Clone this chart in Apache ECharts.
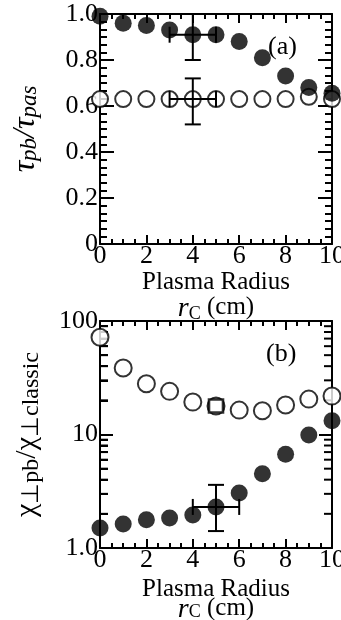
<!DOCTYPE html>
<html lang="en">
<head>
    <meta charset="UTF-8">
    <script src="https://cdn.jsdelivr.net/npm/echarts@6/dist/echarts.min.js"></script>
    <title>Plasma radius</title>
    <style>
        html, body { margin: 0; padding: 0; background: #fff; }
        #chart { width: 341px; height: 620px; }
    </style>
</head>
<body>
<div id="chart"></div>
<script type="text/javascript">
    // data
    var radius = [0, 1, 2, 3, 4, 5, 6, 7, 8, 9, 10];
    var tauFilled = [0.99, 0.96, 0.95, 0.93, 0.91, 0.91, 0.88, 0.81, 0.73, 0.68, 0.655];
    var tauOpen = [0.63, 0.63, 0.63, 0.63, 0.63, 0.63, 0.63, 0.63, 0.63, 0.64, 0.63];
    var chiFilled = [1.5, 1.63, 1.77, 1.84, 1.95, 2.3, 3.05, 4.5, 6.7, 9.9, 13.2];
    var chiOpen = [72, 38.5, 28, 24, 19.3, 17.8, 16.4, 16.2, 18.2, 20.5, 21.8];
    var chiSquare = [[5, 17.8]];
    // [x, y, xlow, xhigh, ylow, yhigh]
    var errA = [[4, 0.91, 3, 5, 0.80, 1.02], [4, 0.63, 3, 5, 0.52, 0.72]];
    var errB = [[5, 2.3, 4, 6, 1.41, 3.6]];
    var logMinor = [2, 3, 4, 5, 6, 7, 8, 9, 20, 30, 40, 50, 60, 70, 80, 90];

    var FONT = 'Liberation Serif';

    function pairs(ys) {
        return radius.map(function (x, i) { return [x, ys[i]]; });
    }

    function errItem(params, api) {
        var c = api.coord([api.value(0), api.value(1)]);
        var l = api.coord([api.value(2), api.value(1)]);
        var r = api.coord([api.value(3), api.value(1)]);
        var lo = api.coord([api.value(0), api.value(4)]);
        var hi = api.coord([api.value(0), api.value(5)]);
        var cap = 8;
        var st = { stroke: '#000', lineWidth: 2 };
        var ln = function (x1, y1, x2, y2) {
            return { type: 'line', shape: { x1: x1, y1: y1, x2: x2, y2: y2 }, style: st };
        };
        return {
            type: 'group',
            children: [
                ln(c[0], lo[1], c[0], hi[1]),
                ln(c[0] - cap, lo[1], c[0] + cap, lo[1]),
                ln(c[0] - cap, hi[1], c[0] + cap, hi[1]),
                ln(l[0], c[1], r[0], c[1]),
                ln(l[0], c[1] - cap, l[0], c[1] + cap),
                ln(r[0], c[1] - cap, r[0], c[1] + cap)
            ]
        };
    }

    // minor ticks 2..9 per decade on the left and right frame of panel (b)
    function logTickItem(params, api) {
        var pl = api.coord([0, api.value(1)]);
        var pr = api.coord([10, api.value(1)]);
        return {
            type: 'group',
            children: [
                { type: 'line', shape: { x1: pl[0], y1: pl[1], x2: pl[0] + 8, y2: pl[1] }, style: { stroke: '#000', lineWidth: 2 } },
                { type: 'line', shape: { x1: pr[0], y1: pr[1], x2: pr[0] - 8, y2: pr[1] }, style: { stroke: '#000', lineWidth: 2 } }
            ]
        };
    }

    var axisLine = { show: true, onZero: false, lineStyle: { color: '#000', width: 2 } };

    function xAx(grid, top, nameOpt) {
        var a = {
            type: 'value', gridIndex: grid, min: 0, max: 10, interval: 2,
            position: top ? 'top' : 'bottom',
            axisLine: axisLine,
            axisTick: { show: true, inside: true, length: 9, lineStyle: { color: '#000', width: 2 } },
            minorTick: { show: true, splitNumber: 4, length: 5, lineStyle: { color: '#000', width: 2 } },
            splitLine: { show: false },
            axisLabel: {
                show: !top, color: '#000', fontFamily: FONT, fontSize: 26, margin: 2, lineHeight: 20,
                showMinLabel: true, showMaxLabel: true
            }
        };
        if (nameOpt) {
            a.name = '{a|Plasma Radius}\n{r|r}{c|C}{a| (cm)}';
            a.nameLocation = 'middle';
            a.nameGap = nameOpt.gap;
            a.nameTextStyle = {
                color: '#000', fontFamily: FONT,
                rich: {
                    a: { fontSize: 25, fontFamily: FONT, color: '#000', lineHeight: nameOpt.lh, verticalAlign: 'top' },
                    r: { fontSize: 28, fontFamily: FONT, fontStyle: 'italic', color: '#000', lineHeight: nameOpt.lh, verticalAlign: 'top' },
                    c: { fontSize: 18, fontFamily: FONT, color: '#000', lineHeight: nameOpt.lh + 14 }
                }
            };
        }
        return a;
    }

    var option = {
        animation: false,
        backgroundColor: '#fff',
        grid: [
            { left: 100, top: 14, width: 232, height: 230, outerBoundsMode: 'none', containLabel: false },
            { left: 100, top: 321, width: 232, height: 227, outerBoundsMode: 'none', containLabel: false }
        ],
        xAxis: [
            xAx(0, false, { gap: 17, lh: 25 }),
            xAx(0, true),
            xAx(1, false, { gap: 29, lh: 19 }),
            xAx(1, true)
        ],
        yAxis: [
            {
                type: 'value', gridIndex: 0, min: 0, max: 1, interval: 0.2,
                axisLine: axisLine,
                axisTick: { show: true, inside: true, length: 14, lineStyle: { color: '#000', width: 2 } },
                minorTick: { show: true, splitNumber: 6, length: 7, lineStyle: { color: '#000', width: 2 } },
                splitLine: { show: false },
                axisLabel: {
                    color: '#000', fontFamily: FONT, fontSize: 26, margin: 2,
                    formatter: function (v) { return v === 0 ? '0' : v.toFixed(1); }
                },
                name: '{t|τ}{s|pb}{t|/τ}{s|pas}',
                nameLocation: 'middle',
                nameRotate: 90,
                nameGap: 50,
                nameTextStyle: {
                    fontFamily: FONT, color: '#000',
                    rich: {
                        t: { fontSize: 32, fontFamily: FONT, fontStyle: 'italic', color: '#000', lineHeight: 20, verticalAlign: 'top' },
                        s: { fontSize: 23, fontFamily: FONT, fontStyle: 'italic', color: '#000', lineHeight: 40 }
                    }
                }
            },
            {
                type: 'value', gridIndex: 0, min: 0, max: 1, interval: 0.2, position: 'right',
                axisLine: axisLine,
                axisTick: { show: true, inside: true, length: 14, lineStyle: { color: '#000', width: 2 } },
                minorTick: { show: true, splitNumber: 6, length: 7, lineStyle: { color: '#000', width: 2 } },
                splitLine: { show: false },
                axisLabel: { show: false }
            },
            {
                type: 'log', logBase: 10, gridIndex: 1, min: 1, max: 100, position: 'left',
                axisLine: axisLine,
                axisTick: { show: true, inside: true, length: 13, lineStyle: { color: '#000', width: 2 } },
                splitLine: { show: false },
                axisLabel: {
                    color: '#000', fontFamily: FONT, fontSize: 26, margin: 2,
                    formatter: function (v) { var n = Math.round(v); return n === 1 ? '1.0' : String(n); }
                },
                name: '{t|χ}{s|⊥pb}{t|/χ}{s|⊥classic}',
                nameLocation: 'middle',
                nameRotate: 90,
                nameGap: 48,
                nameTextStyle: {
                    fontFamily: FONT, color: '#000',
                    rich: {
                        t: { fontSize: 30, fontFamily: FONT, color: '#000', lineHeight: 20, verticalAlign: 'top' },
                        s: { fontSize: 24, fontFamily: FONT, color: '#000', lineHeight: 40 }
                    }
                }
            },
            {
                type: 'log', logBase: 10, gridIndex: 1, min: 1, max: 100, position: 'right',
                axisLine: axisLine,
                axisTick: { show: true, inside: true, length: 13, lineStyle: { color: '#000', width: 2 } },
                splitLine: { show: false },
                axisLabel: { show: false }
            },
            // helper axis in log10 space carrying the 2..9 minor ticks on the left edge
            {
                type: 'value', gridIndex: 1, min: 0, max: 2, position: 'left',
                axisLine: { show: false },
                axisTick: {
                    show: true, inside: true, length: 8,
                    customValues: logMinor.map(function (v) { return Math.log10(v); }),
                    lineStyle: { color: '#000', width: 2 }
                },
                splitLine: { show: false },
                axisLabel: { show: false }
            }
        ],
        graphic: [
            { type: 'text', left: 268, top: 34, style: { text: '(a)', font: '26px "Liberation Serif"', fill: '#000' } },
            { type: 'text', left: 266, top: 341, style: { text: '(b)', font: '26px "Liberation Serif"', fill: '#000' } }
        ],
        series: [
            {
                type: 'scatter', xAxisIndex: 0, yAxisIndex: 0, data: pairs(tauOpen),
                symbol: 'circle', symbolSize: 16,
                itemStyle: { color: '#fff', borderColor: '#000', borderWidth: 2 }, z: 10
            },
            {
                type: 'custom', xAxisIndex: 0, yAxisIndex: 0, data: errA,
                renderItem: errItem, clip: true, z: 11
            },
            {
                type: 'scatter', xAxisIndex: 0, yAxisIndex: 0, data: pairs(tauFilled),
                symbol: 'circle', symbolSize: 17,
                itemStyle: { color: '#000' }, z: 12
            },
            {
                type: 'custom', xAxisIndex: 2, yAxisIndex: 2,
                data: logMinor.map(function (v) { return [5, v]; }),
                renderItem: logTickItem, clip: false, silent: true, z: 9
            },
            {
                type: 'scatter', xAxisIndex: 2, yAxisIndex: 2, data: pairs(chiOpen),
                symbol: 'circle', symbolSize: 17,
                itemStyle: { color: '#fff', borderColor: '#000', borderWidth: 2 }, z: 10
            },
            {
                type: 'scatter', xAxisIndex: 2, yAxisIndex: 2, data: chiSquare,
                symbol: 'rect', symbolSize: [14, 13],
                itemStyle: { color: '#fff', borderColor: '#000', borderWidth: 2.5 }, z: 11
            },
            {
                type: 'custom', xAxisIndex: 2, yAxisIndex: 2, data: errB,
                renderItem: errItem, clip: true, z: 11
            },
            {
                type: 'scatter', xAxisIndex: 2, yAxisIndex: 2, data: pairs(chiFilled),
                symbol: 'circle', symbolSize: 17,
                itemStyle: { color: '#000' }, z: 12
            }
        ]
    };

    var myChart = echarts.init(document.getElementById('chart'));
    myChart.setOption(option);
    window.onresize = myChart.resize;
</script>
</body>
</html>
